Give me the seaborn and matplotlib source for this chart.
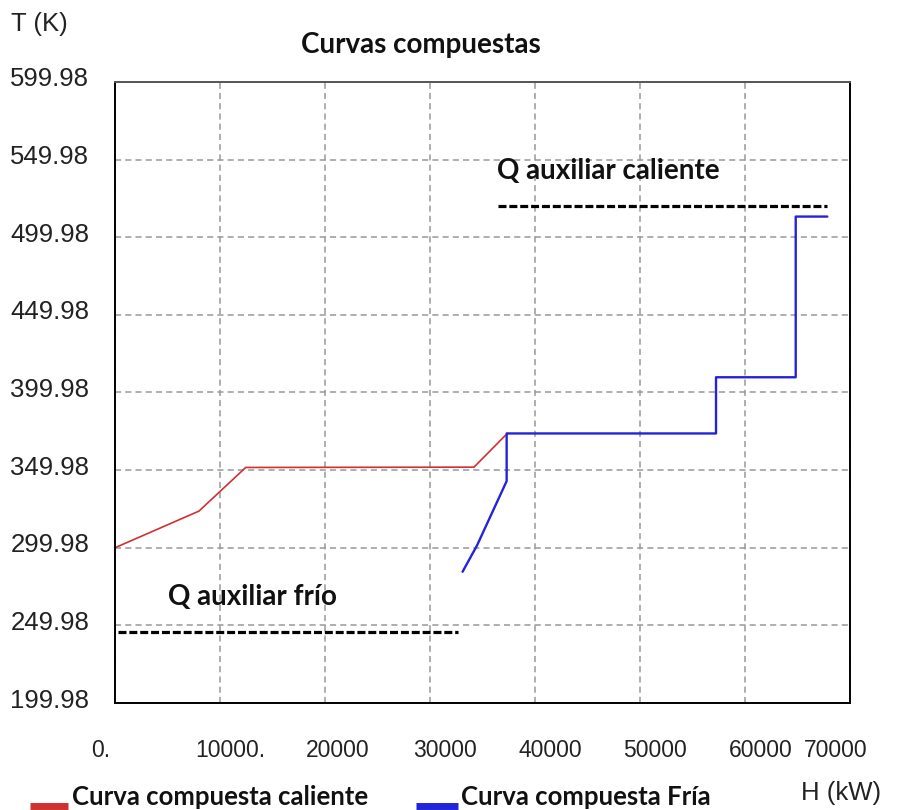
import matplotlib
matplotlib.use("Agg")
import matplotlib.pyplot as plt
import matplotlib.transforms as mtransforms
from matplotlib.lines import Line2D
import pandas as pd
import seaborn as sns

# Composite curves (H in kW, T in K)
hot_H = [0, 8000, 12450, 34190, 37360]
hot_T = [299.98, 323.6, 351.7, 351.9, 373.6]

cold_H = [33100, 34480, 37300, 37300, 57240, 57240, 64830, 64830, 67840]
cold_T = [284.5, 301.5, 342.9, 373.6, 373.6, 409.8, 409.8, 513.3, 513.3]

# Utility requirements
hot_util_H = [36480, 67810]
hot_util_T = [520.2, 520.2]
cold_util_H = [290, 32670]
cold_util_T = [245.7, 245.7]

y_ticks = [199.98, 249.98, 299.98, 349.98, 399.98, 449.98, 499.98, 549.98, 599.98]
x_ticks = [0, 10000, 20000, 30000, 40000, 50000, 60000, 70000]
x_tick_labels = ["0.", "10000.", "20000", "30000", "40000", "50000", "60000", "70000"]
x_label_shift = [-14, 10, 13, 15, 15, 15, 16, -14]  # px, horizontal nudge of each tick label

series_names = ["Curva compuesta caliente", "Curva compuesta Fría"]
series_colors = ["#d03030", "#2323dc"]

sns.set_style("white")
plt.rcParams["font.family"] = ["Liberation Sans", "DejaVu Sans"]
bold_font = ["Lato", "DejaVu Sans"]

df = pd.concat([
    pd.DataFrame({"H": hot_H, "T": hot_T, "curva": series_names[0]}),
    pd.DataFrame({"H": cold_H, "T": cold_T, "curva": series_names[1]}),
])

W, H = 904, 810
fig = plt.figure(figsize=(W / 100, H / 100), dpi=100)
ax = fig.add_axes([115 / W, 1 - 703 / H, (850 - 115) / W, (703 - 82) / H])

sns.lineplot(data=df[df.curva == series_names[0]], x="H", y="T", sort=False,
             color=series_colors[0], lw=1.2, ax=ax, legend=False, estimator=None)
sns.lineplot(data=df[df.curva == series_names[1]], x="H", y="T", sort=False,
             color=series_colors[1], lw=1.7, ax=ax, legend=False, estimator=None)

ax.plot(hot_util_H, hot_util_T, color="black", lw=2.3, ls=(0, (2.5, 0.9)))
ax.plot(cold_util_H, cold_util_T, color="black", lw=2.3, ls=(0, (2.5, 0.9)))

ax.text(36380, 542.9, "Q auxiliar caliente", fontsize=20, fontweight="bold",
        family=bold_font, va="center", ha="left", color="#111111")
ax.text(5050, 268, "Q auxiliar frío", fontsize=20, fontweight="bold",
        family=bold_font, va="center", ha="left", color="#111111")

ax.set_xlim(0, 70000)
ax.set_ylim(199.98, 599.98)
ax.set_xticks(x_ticks)
ax.set_xticklabels(x_tick_labels, fontsize=16.5)
ax.set_yticks(y_ticks)
ax.set_yticklabels([f"{v:.2f}" for v in y_ticks], fontsize=18.5)
ax.tick_params(axis="y", direction="inout", length=15, width=1.3, pad=11, colors="black")
ax.tick_params(axis="x", direction="inout", length=20, width=1.1, pad=16, colors="black")

for lab in ax.get_yticklabels():
    lab.set_color("#222222")
    lab.set_transform(lab.get_transform() +
                      mtransforms.ScaledTranslation(0, 5 / 100, fig.dpi_scale_trans))
for lab, dx in zip(ax.get_xticklabels(), x_label_shift):
    lab.set_color("#222222")
    lab.set_transform(lab.get_transform() +
                      mtransforms.ScaledTranslation(dx / 100, 0, fig.dpi_scale_trans))

ax.grid(True, color="#999999", ls=(0, (4, 2.7)), lw=1.1)
for side in ["left", "bottom", "right"]:
    ax.spines[side].set_color("black")
    ax.spines[side].set_linewidth(1.4)
ax.spines["top"].set_color("#555555")
ax.spines["top"].set_linewidth(1.4)
ax.set_xlabel("")
ax.set_ylabel("")

fig.text(11 / W, 1 - 24 / H, "T (K)", fontsize=18.5, va="center", ha="left", color="#222222")
fig.text(881 / W, 1 - 793 / H, "H (kW)", fontsize=18.5, va="center", ha="right", color="#222222")
fig.text(421 / W, 1 - 45 / H, "Curvas compuestas", fontsize=20, fontweight="bold",
         family=bold_font, va="center", ha="center", color="#111111")

# Legend: colour bar on the baseline followed by the series name
legend_items = [(30, 68, 72), (416, 458, 461)]
for (x0, x1, xt), name, color in zip(legend_items, series_names, series_colors):
    fig.add_artist(Line2D([x0 / W, x1 / W], [1 - 806 / H, 1 - 806 / H], color=color,
                          lw=5, transform=fig.transFigure, solid_capstyle="butt"))
    fig.text(xt / W, 1 - 797 / H, name, fontsize=18.5, fontweight="bold", family=bold_font,
             va="center", ha="left", color="#111111")

fig.savefig("out.png", dpi=100)
